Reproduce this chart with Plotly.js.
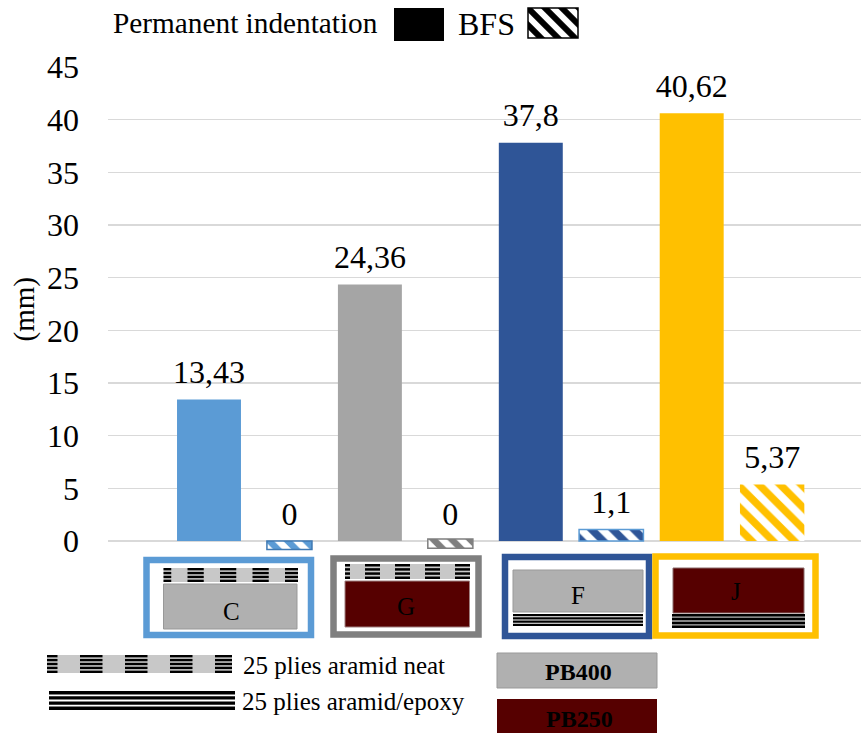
<!DOCTYPE html>
<html><head><meta charset="utf-8">
<script src="https://cdn.plot.ly/plotly-3.0.1.min.js"></script>
<style>html,body{margin:0;padding:0;background:#fff}#c{width:861px;height:733px}</style>
</head><body><div id="c"></div>
<script>
const categories = ['C PI','C BFS','G PI','G BFS','F PI','F BFS','J PI','J BFS'];
const indentCats = ['C PI','G PI','F PI','J PI'];
const indentVals = [13.43,24.36,37.8,40.62];
const indentColors = ['#5B9BD5','#A5A5A5','#2F5597','#FFC000'];
const bfsCats = ['C BFS','G BFS','F BFS','J BFS'];
const bfsVals = [0,0,1.1,5.37];
const bfsColors = ['#5B9BD5','#7F7F7F','#2F5597','#FFC000'];
const bfsLines = ['#5B9BD5','#7F7F7F','#5B9BD5','#FFC000'];
const bfsLineWidths = [0,0,1.5,0];
const stubCats = ['C BFS','G BFS'];
const stubVals = [-0.8,-0.9];
const stubBase = [0,0.2];
const stubColors = ['#5B9BD5','#7F7F7F'];
const stubLines = ['#3E78B2','#7F7F7F'];
const yTicks = [0,5,10,15,20,25,30,35,40,45];
const FONT = '"Liberation Serif","Times New Roman",serif';
const W = 861, H = 733;
const px = x => x / W, py = y => 1 - y / H;
const lab = v => String(v).replace('.', ',');

const shapes = [];
function rect(x0,y0,x1,y1,fill,line,lw){
  shapes.push({type:'rect',xref:'paper',yref:'paper',layer:'above',x0:px(x0),x1:px(x1),y0:py(y1),y1:py(y0),
    fillcolor:fill||'rgba(0,0,0,0)',line:{color:line||'rgba(0,0,0,0)',width:lw||0}});
}
function neat(x0,y0,x1,y1,n,period,start){
  rect(x0,y0,x1,y1,'#C8C8C8');
  const p=(y1-y0)/(n-0.4), h=p*0.6;
  for(let xs=start;xs<x1;xs+=period){
    const a=Math.max(xs,x0), b=Math.min(xs+period*0.5,x1);
    if(b<=a) continue;
    for(let i=0;i<n;i++) rect(a,y0+i*p,b,y0+i*p+h,'#000');
  }
}
function solid(x0,y0,x1,y1,n,gap){
  rect(x0,y0,x1,y1,gap);
  const p=(y1-y0)/(n-0.35), h=p*0.65;
  for(let i=0;i<n;i++) rect(x0,y0+i*p,x1,y0+i*p+h,'#000');
}
// C
rect(146.5,560,311,635,'#fff','#5B9BD5',6.5);
neat(163.5,568,298,582,4,32.5,155);
rect(163.5,584,297,629,'#B0B0B0','#999',1);
// G
rect(333.5,558.5,478.5,634.5,'#fff','#7F7F7F',6.5);
neat(345,564,470,579,4,30,335);
rect(345,581,469.5,627,'#560000','#A08080',1);
// F
rect(505,557,649,636,'#fff','#2F5597',6.5);
rect(513,570,643,612,'#B0B0B0','#999',1);
solid(513,614,643,626,4,'#fff');
// J
rect(655.5,556.5,815.5,635.5,'#fff','#FFC000',6.5);
rect(673,568,804,613,'#560000','#8A6A6A',1);
solid(672,614,805,628,4,'#B5B5B5');
// Bottom key
neat(47,655,232,673,5,45,35);
solid(49,691,235,710,4,'#fff');
rect(497,653,657,688,'#B0B0B0','#999',1);
rect(497,699,657,733,'#560000');
// Legend solid swatch
rect(394,8,444,41,'#000');
rect(528,8,578,38,'rgba(0,0,0,0)','#000',1.5);

function note(text,x,y,size,anchor,bold){
  return {text:bold?'<b>'+text+'</b>':text,xref:'paper',yref:'paper',x:px(x),y:py(y),xanchor:anchor||'center',yanchor:'middle',
    showarrow:false,font:{family:FONT,size,color:'#000'}};
}
const annotations=[
  note('Permanent indentation',110.5,23,29.3,'left'),
  note('BFS',456,24,32,'left'),
  note('C',231,611,25),
  note('G',406,606,25),
  note('F',578,595,25),
  note('J',736,591,25),
  note('25 plies aramid neat',241,665,25,'left'),
  note('25 plies aramid/epoxy',240,701,25,'left'),
  note('PB400',578,672,24,'center',true),
  note('PB250',579,719,24,'center',true)
];

const labelTrace=(x,y)=>({type:'scatter',mode:'markers+text',x,y,text:y.map(lab),textposition:'top center',cliponaxis:false,
  marker:{size:12,opacity:0},textfont:{family:FONT,size:32,color:'#000'},hoverinfo:'skip'});
const traces=[
 {type:'bar',x:indentCats,y:indentVals,width:0.795,marker:{color:indentColors,line:{width:0}},hoverinfo:'x+y'},
 {type:'bar',x:bfsCats,y:bfsVals,width:0.8,
  marker:{color:'#fff',line:{color:bfsLines,width:bfsLineWidths},
    pattern:{shape:'\\',fgcolor:bfsColors,bgcolor:'#fff',size:15,solidity:0.5}},hoverinfo:'x+y'},
 {type:'bar',x:stubCats,y:stubVals,base:stubBase,width:0.56,
  marker:{color:'#fff',line:{color:stubLines,width:1.5},
    pattern:{shape:'\\',fgcolor:stubColors,bgcolor:'#fff',size:13,solidity:0.5}},
  cliponaxis:false,hoverinfo:'skip'},
 labelTrace(indentCats,indentVals),
 labelTrace(bfsCats,bfsVals),
 {type:'bar',x:[0],y:[1],width:1,xaxis:'x2',yaxis:'y2',hoverinfo:'skip',
  marker:{color:'#fff',line:{width:0},pattern:{shape:'\\',fgcolor:'#000',bgcolor:'#fff',size:12,solidity:0.5}}}
];
const unitPx=474/45;
const x0i=-(209-108)/80.45, x1i=(861-209)/80.45;
const layout={
 width:W,height:H,margin:{l:0,r:0,t:0,b:0,pad:0},paper_bgcolor:'#fff',plot_bgcolor:'rgba(0,0,0,0)',
 showlegend:false,barmode:'overlay',separators:',.',
 xaxis:{type:'category',categoryorder:'array',categoryarray:categories,range:[x0i,x1i],domain:[px(108),1],
   showticklabels:false,ticks:'',showgrid:false,zeroline:false,showline:false,fixedrange:true},
 yaxis:{range:[-1,45],domain:[py(541+unitPx),py(67)],tickvals:yTicks,ticktext:yTicks.map(String),
   tickfont:{family:FONT,size:32,color:'#000'},ticks:'',ticklen:0,ticklabelstandoff:28,
   gridcolor:'#D9D9D9',gridwidth:1.5,zeroline:true,zerolinecolor:'#D9D9D9',zerolinewidth:1.5,showline:false,
   title:{text:'(mm)',font:{family:FONT,size:29,color:'#000'},standoff:3},fixedrange:true,automargin:false},
 xaxis2:{domain:[px(528),px(578)],range:[-0.5,0.5],visible:false,anchor:'y2',fixedrange:true},
 yaxis2:{domain:[py(38),py(8)],range:[0,1],visible:false,anchor:'x2',fixedrange:true},
 shapes,annotations
};
Plotly.newPlot('c',traces,layout,{displayModeBar:false,staticPlot:true});
</script></body></html>
